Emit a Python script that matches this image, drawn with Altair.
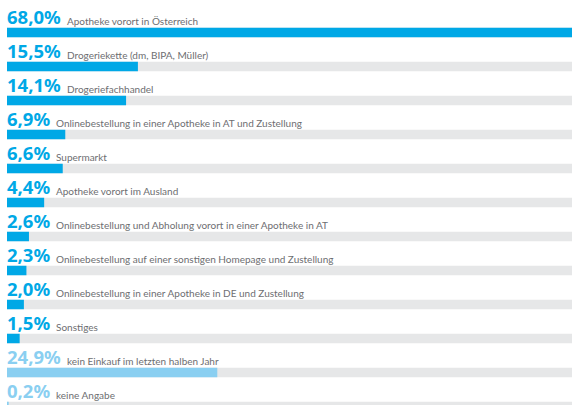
import altair as alt
import pandas as pd

categories = [
    "Apotheke vorort in Österreich",
    "Drogeriekette (dm, BIPA, Müller)",
    "Drogeriefachhandel",
    "Onlinebestellung in einer Apotheke in AT und Zustellung",
    "Supermarkt",
    "Apotheke vorort im Ausland",
    "Onlinebestellung und Abholung vorort in einer Apotheke in AT",
    "Onlinebestellung auf einer sonstigen Homepage und Zustellung",
    "Onlinebestellung in einer Apotheke in DE und Zustellung",
    "Sonstiges",
    "kein Einkauf im letzten halben Jahr",
    "keine Angabe",
]
values = [68.0, 15.5, 14.1, 6.9, 6.6, 4.4, 2.6, 2.3, 2.0, 1.5, 24.9, 0.2]
groups = ["main"] * 10 + ["other"] * 2

XMAX = 66.9
W = 565

df = pd.DataFrame({"cat": categories, "value": values, "group": groups})
df["pct"] = df["value"].map(lambda v: f"{v:.1f}".replace(".", ",") + "%")

x_scale = alt.Scale(domain=[0, XMAX], nice=False, zero=True)
y_enc = alt.Y("cat:N", sort=categories, axis=None,
              scale=alt.Scale(range=[0, 408], paddingInner=0, paddingOuter=0))
color_scale = alt.Scale(domain=["main", "other"], range=["#00a8e6", "#8acff1"])

base = alt.Chart(df).transform_calculate(
    full=f"{XMAX}",
    lx=f"(length(datum.pct) >= 5 ? 60 : 49) * {XMAX} / {W}",
)

track = base.mark_bar(color="#e6e7e8", size=9.5, yOffset=15.5, clip=True).encode(
    x=alt.X("full:Q", axis=None, scale=x_scale),
    y=y_enc,
)

bars = base.mark_bar(size=9.5, yOffset=15.5, clip=True).encode(
    x=alt.X("value:Q", axis=None, scale=x_scale),
    y=y_enc,
    color=alt.Color("group:N", scale=color_scale, legend=None),
)

pct_text = base.mark_text(
    align="left", baseline="alphabetic", font="Noto Sans", fontWeight="bold",
    fontSize=18.5, yOffset=7,
).encode(
    x=alt.value(0),
    y=y_enc,
    text="pct:N",
    color=alt.Color("group:N", scale=color_scale, legend=None),
)

cat_text = base.mark_text(
    align="left", baseline="alphabetic", font="Lato", fontSize=10,
    color="#6d6e71", yOffset=8,
).encode(
    x=alt.X("lx:Q", axis=None, scale=x_scale),
    y=y_enc,
    text="cat:N",
)

chart = alt.layer(track, bars, pct_text, cat_text).properties(
    width=W, height=405,
    autosize=alt.AutoSizeParams(type="none"),
    padding={"left": 7, "top": 0, "right": 0, "bottom": 0},
).configure_view(stroke=None)

chart.save("out.html", embed_options={"renderer": "svg", "actions": False})
